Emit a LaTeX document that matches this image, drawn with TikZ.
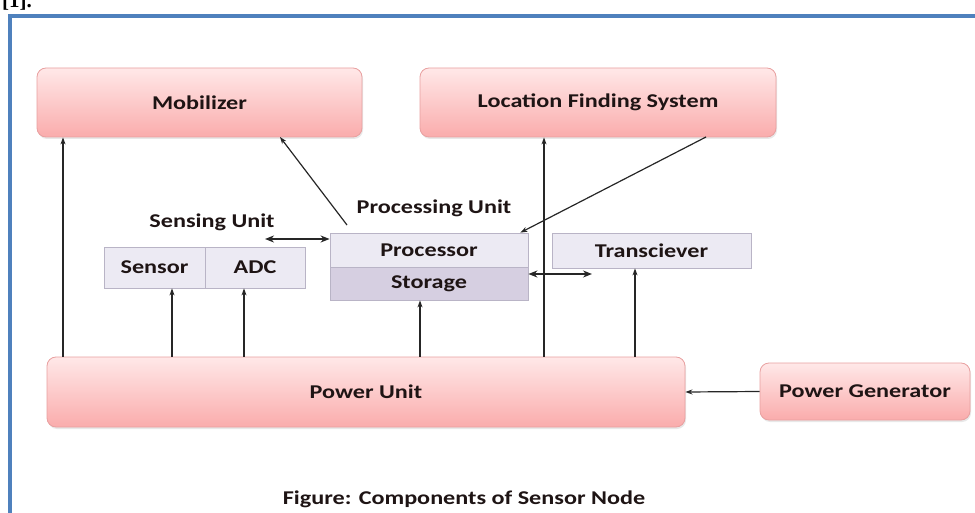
\documentclass[tikz,border=0pt]{standalone}
\usepackage{fontspec}
\setmainfont[FakeStretch=1.24]{Carlito}
\newfontfamily\serifb{Liberation Serif}
\usetikzlibrary{arrows.meta,shadows}
\definecolor{frameblue}{RGB}{79,129,189}
\definecolor{pinktop}{RGB}{255,232,232}
\definecolor{pinkbot}{RGB}{250,172,172}
\definecolor{pinkline}{RGB}{232,160,160}
\definecolor{lav}{RGB}{236,234,243}
\definecolor{lavdark}{RGB}{214,207,225}
\definecolor{lavline}{RGB}{185,180,198}
\definecolor{txt}{RGB}{30,20,20}
\tikzset{
  lbl/.style={font=\fontsize{19.5}{22}\selectfont\bfseries, text=txt, inner sep=1pt},
  pinkbox/.style={lbl, rounded corners=9pt, draw=pinkline, line width=0.8pt,
    top color=pinktop, bottom color=pinkbot,
    drop shadow={opacity=0.18, shadow xshift=1pt, shadow yshift=-2pt}},
  lavbox/.style={lbl, draw=lavline, line width=0.8pt, fill=lav},
  arr/.style={-{Stealth[length=7pt,width=5pt]}, line width=1.2pt, draw=black!85},
  darr/.style={{Stealth[length=9pt,width=7pt]}-{Stealth[length=9pt,width=7pt]}, line width=2pt, draw=black!85}
}
\begin{document}
\begin{tikzpicture}[x=1pt,y=-1pt]
\useasboundingbox (0,0) rectangle (975,513);
% header fragment and frame
\node[anchor=base west, inner sep=0, font=\serifb\fontsize{21}{24}\selectfont\bfseries] (ref) at (2,8) {[1].};
\draw[frameblue, line width=3.5pt] (10,513) -- (10,16) -- (975,16);

% top boxes
\node[pinkbox, minimum width=325pt, minimum height=69pt] (mob) at (199.5,102.5) {Mobilizer};
\node[pinkbox, minimum width=356pt, minimum height=69pt] (lfs) at (598,102.5) {Location Finding System};

% labels
\node[lbl] (senslbl) at (212,222) {Sensing Unit};
\node[lbl] (proclbl) at (434,208) {Processing Unit};

% sensing unit
\node[lavbox, minimum width=101pt, minimum height=41pt] (sensor) at (154.5,267.5) {Sensor};
\node[lavbox, minimum width=100pt, minimum height=41pt] (adc) at (255,267.5) {ADC};

% processing unit
\node[lavbox, minimum width=198pt, minimum height=34pt] (proc) at (429,250) {Processor};
\node[lavbox, fill=lavdark, minimum width=198pt, minimum height=33pt] (stor) at (429,283.5) {Storage};

% transceiver
\node[lavbox, minimum width=199pt, minimum height=35pt] (trx) at (651.5,250.5) {Transciever};

% power
\node[pinkbox, minimum width=638pt, minimum height=70pt] (pu) at (366,392) {Power Unit};
\node[pinkbox, minimum width=210pt, minimum height=57pt] (pg) at (865,391.5) {Power Generator};

% caption
\node[lbl] (cap) at (464,499) {Figure: Components of Sensor Node};

% coordinates
\coordinate (xm) at (63,0);
\coordinate (xs) at (172,0);
\coordinate (xa) at (244,0);
\coordinate (xst) at (420,0);
\coordinate (xl) at (544,0);
\coordinate (xt) at (635,0);
\coordinate (dstart) at (347,225);
\coordinate (mobend) at (280,137);
\coordinate (lfsstart) at (706,137);
\coordinate (sensend) at (265,239);
\coordinate (storend) at (592,274);

% arrows
\draw[arr] (xm |- pu.north) -- (xm |- mob.south);
\draw[arr] (xl |- pu.north) -- (xl |- lfs.south);
\draw[arr] (xs |- pu.north) -- (xs |- sensor.south);
\draw[arr] (xa |- pu.north) -- (xa |- adc.south);
\draw[arr] (xst |- pu.north) -- (xst |- stor.south);
\draw[arr] (xt |- pu.north) -- (xt |- trx.south);
\draw[arr] (dstart) -- (mobend);
\draw[arr] (lfsstart) -- ([xshift=-8pt]proc.north east);
\draw[arr] (pg.west) -- (pu.east);
\draw[darr] (sensend) -- (sensend -| proc.west);
\draw[darr] (storend -| stor.east) -- (storend);
\end{tikzpicture}
\end{document}
